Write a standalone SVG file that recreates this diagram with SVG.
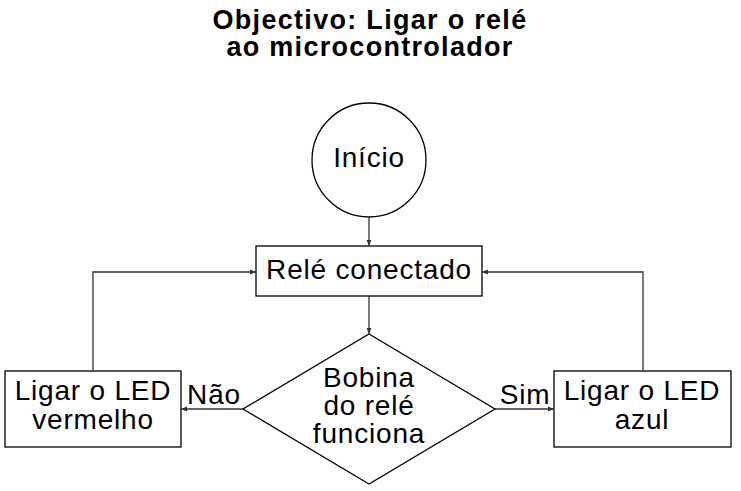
<svg xmlns="http://www.w3.org/2000/svg" width="741" height="491" viewBox="0 0 741 491">
<style>
.shape{fill:#fff;stroke:#000;stroke-width:1.3}
.t{font-family:"Liberation Sans",Arial,sans-serif;font-size:28px;letter-spacing:0.8px;fill:#000;text-anchor:middle}
.title{font-family:"Liberation Sans",Arial,sans-serif;font-size:27px;letter-spacing:1.3px;font-weight:bold;fill:#000;text-anchor:middle}
.edge{fill:none;stroke:#333;stroke-width:1.3;marker-end:url(#ah)}
</style>
<defs>
<marker id="ah" viewBox="0 0 10 10" refX="10" refY="5" markerWidth="8" markerHeight="6" markerUnits="userSpaceOnUse" orient="auto">
<path d="M0,1 L10,5 L0,9 Z" fill="#333"/>
</marker>
</defs>
<rect width="741" height="491" fill="#fff"/>
<g id="title">
<text class="title" x="370" y="29">Objectivo: Ligar o relé</text>
<text class="title" x="370" y="56">ao microcontrolador</text>
</g>
<g id="inicio">
<circle class="shape" cx="369" cy="160" r="57"/>
<text class="t" x="369" y="167">Início</text>
</g>
<g id="rele">
<rect class="shape" x="256" y="246" width="226" height="50"/>
<text class="t" x="369" y="279">Relé conectado</text>
</g>
<g id="bobina">
<polygon class="shape" points="369,334 495,409 369,484 243,409"/>
<text class="t" x="369" y="387">Bobina</text>
<text class="t" x="369" y="415">do relé</text>
<text class="t" x="369" y="443">funciona</text>
</g>
<g id="vermelho">
<rect class="shape" x="5" y="371" width="176" height="76"/>
<text class="t" x="93" y="400">Ligar o LED</text>
<text class="t" x="93" y="429">vermelho</text>
</g>
<g id="azul">
<rect class="shape" x="554" y="371" width="177" height="76"/>
<text class="t" x="642" y="400">Ligar o LED</text>
<text class="t" x="642" y="429">azul</text>
</g>
<g id="connectors">
<path class="edge" d="M369,217 L369,246"/>
<path class="edge" d="M369,296 L369,334"/>
<path class="edge" d="M243,409 L181,409"/>
<path class="edge" d="M495,409 L554,409"/>
<path class="edge" d="M93,371 L93,272 L256,272"/>
<path class="edge" d="M643,371 L643,272 L482,272"/>
<text class="t" x="214" y="404">Não</text>
<text class="t" x="525" y="404">Sim</text>
</g>
</svg>
